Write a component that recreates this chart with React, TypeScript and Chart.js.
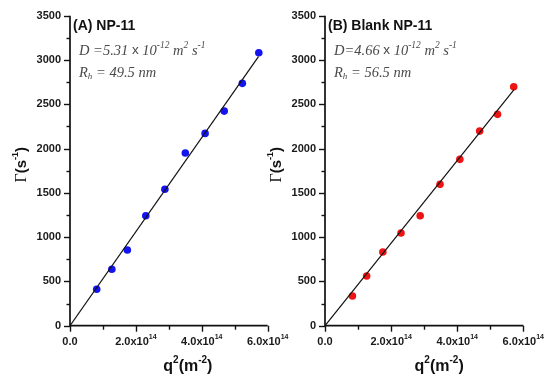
import React, { useEffect, useRef } from 'react';
import { Chart, registerables } from 'chart.js';

Chart.register(...registerables);

// q^2 values in units of 10^14 m^-2, decay rate Γ in s^-1
const qA = [0.81, 1.27, 1.74, 2.30, 2.88, 3.50, 4.10, 4.68, 5.23, 5.73];
const gammaA = [411, 637, 854, 1242, 1540, 1949, 2171, 2423, 2736, 3081];
const qB = [0.83, 1.26, 1.75, 2.30, 2.88, 3.48, 4.08, 4.68, 5.22, 5.71];
const gammaB = [335, 561, 832, 1046, 1242, 1596, 1878, 2197, 2386, 2698];
// linear fits through the origin
const fitQ = [0, 5.72];
const fitA = [0, 3037];
const fitB = [0, 2666];

const yTicks = [0, 500, 1000, 1500, 2000, 2500, 3000, 3500];
const xTicks = [0, 2, 4, 6];
const xTickMain = ['0.0', '2.0x10', '4.0x10', '6.0x10'];
const xTickExp = ['', '14', '14', '14'];

type Part = { t: string; font: string; dy?: number; color?: string };

const SANS = '"Liberation Sans", Arial, sans-serif';
const SERIF = '"Liberation Serif", "Times New Roman", serif';

function richWidth(ctx: CanvasRenderingContext2D, parts: Part[]) {
  let w = 0;
  for (const p of parts) {
    ctx.font = p.font;
    w += ctx.measureText(p.t).width;
  }
  return w;
}

function drawRich(ctx: CanvasRenderingContext2D, parts: Part[], x: number, y: number, align: 'left' | 'center', color: string) {
  const w = richWidth(ctx, parts);
  let cx = align === 'center' ? x - w / 2 : x;
  ctx.textBaseline = 'middle';
  ctx.textAlign = 'left';
  for (const p of parts) {
    ctx.font = p.font;
    ctx.fillStyle = p.color || color;
    ctx.fillText(p.t, cx, y + (p.dy || 0));
    cx += ctx.measureText(p.t).width;
  }
}

type Cfg = {
  title: string;
  dParts: Part[];
  rValue: string;
  xTitleShift: number;
};

function makePlugin(cfg: Cfg) {
  return {
    id: 'customAxes',
    afterDraw(chart: any) {
      const ctx: CanvasRenderingContext2D = chart.ctx;
      const { left, right, top, bottom } = chart.chartArea;
      const xs = chart.scales.x;
      const ys = chart.scales.y;
      ctx.save();
      const ink = '#111';
      ctx.strokeStyle = ink;
      ctx.lineWidth = 1.7;
      ctx.beginPath();
      ctx.moveTo(left, top);
      ctx.lineTo(left, bottom);
      ctx.lineTo(right, bottom);
      ctx.stroke();

      // y ticks (major + minor)
      ctx.lineWidth = 1.4;
      for (let v = 0; v <= 3500; v += 250) {
        const py = Math.round(ys.getPixelForValue(v)) + 0.5;
        const len = v % 500 === 0 ? 6 : 3.5;
        ctx.beginPath();
        ctx.moveTo(left - len, py);
        ctx.lineTo(left, py);
        ctx.stroke();
      }
      // x ticks
      for (let v = 0; v <= 6; v += 1) {
        const px = Math.round(xs.getPixelForValue(v)) + 0.5;
        const len = v % 2 === 0 ? 6 : 4;
        ctx.beginPath();
        ctx.moveTo(px, bottom);
        ctx.lineTo(px, bottom + len);
        ctx.stroke();
      }

      // y tick labels
      ctx.fillStyle = '#1a1a1a';
      ctx.font = `bold 11px ${SANS}`;
      ctx.textAlign = 'right';
      ctx.textBaseline = 'middle';
      yTicks.forEach((v) => {
        ctx.fillText(String(v), left - 9, ys.getPixelForValue(v));
      });

      // x tick labels
      xTicks.forEach((v, i) => {
        const parts: Part[] = [{ t: xTickMain[i], font: `bold 11px ${SANS}` }];
        if (xTickExp[i]) parts.push({ t: xTickExp[i], font: `bold 7px ${SANS}`, dy: -5 });
        drawRich(ctx, parts, xs.getPixelForValue(v), bottom + 16, 'center', '#1a1a1a');
      });

      // x title
      drawRich(
        ctx,
        [
          { t: 'q', font: `bold 16px ${SANS}` },
          { t: '2', font: `bold 10px ${SANS}`, dy: -6 },
          { t: '(m', font: `bold 16px ${SANS}` },
          { t: '-2', font: `bold 10px ${SANS}`, dy: -6 },
          { t: ')', font: `bold 16px ${SANS}` },
        ],
        (left + right) / 2 + cfg.xTitleShift,
        bottom + 41,
        'center',
        '#111'
      );

      // y title (rotated)
      ctx.save();
      ctx.translate(left - 48, (top + bottom) / 2 - 6);
      ctx.rotate(-Math.PI / 2);
      drawRich(
        ctx,
        [
          { t: 'Γ', font: `16px ${SERIF}` },
          { t: '(s', font: `bold 15px ${SANS}` },
          { t: '-1', font: `bold 9px ${SANS}`, dy: -6 },
          { t: ')', font: `bold 15px ${SANS}` },
        ],
        0,
        0,
        'center',
        '#111'
      );
      ctx.restore();

      // annotations
      ctx.fillStyle = '#111';
      ctx.font = `bold 14px ${SANS}`;
      ctx.textAlign = 'left';
      ctx.textBaseline = 'middle';
      ctx.fillText(cfg.title, left + 3, top + 10);

      drawRich(ctx, cfg.dParts, left + 9, top + 35, 'left', '#4a4a4a');
      drawRich(
        ctx,
        [
          { t: 'R', font: `italic 14.5px ${SERIF}` },
          { t: 'h', font: `italic 9px ${SERIF}`, dy: 4 },
          { t: ' = ' + cfg.rValue, font: `italic 14.5px ${SERIF}` },
        ],
        left + 9,
        top + 57,
        'left',
        '#4a4a4a'
      );
      ctx.restore();
    },
  };
}

function dParts(prefix: string, value: string): Part[] {
  const it = `italic 14.5px ${SERIF}`;
  const sup = `italic 9.5px ${SERIF}`;
  return [
    { t: prefix + value + ' ', font: it },
    { t: 'x', font: `13.5px ${SANS}` },
    { t: ' 10', font: it },
    { t: '-12', font: sup, dy: -5 },
    { t: ' m', font: it },
    { t: '2', font: sup, dy: -5 },
    { t: ' s', font: it },
    { t: '-1', font: sup, dy: -5 },
  ];
}

const CW = 290;

function Panel(props: {
  q: number[];
  g: number[];
  fit: number[];
  color: string;
  padding: { left: number; right: number; top: number; bottom: number };
  cfg: Cfg;
  offset: number;
}) {
  const ref = useRef<HTMLCanvasElement | null>(null);
  useEffect(() => {
    if (!ref.current) return;
    const chart = new Chart(ref.current, {
      type: 'scatter',
      data: {
        datasets: [
          {
            type: 'line',
            data: fitQ.map((x, i) => ({ x, y: props.fit[i] })),
            borderColor: '#111',
            borderWidth: 1.2,
            pointRadius: 0,
            showLine: true,
            fill: false,
            order: 0,
          } as any,
          {
            data: props.q.map((x, i) => ({ x, y: props.g[i] })),
            backgroundColor: props.color,
            borderColor: props.color,
            pointRadius: 3.8,
            pointBorderWidth: 0,
            order: 1,
          },
        ],
      },
      options: {
        animation: false,
        responsive: false,
        maintainAspectRatio: false,
        layout: { padding: props.padding },
        plugins: { legend: { display: false }, tooltip: { enabled: false } },
        scales: {
          x: { type: 'linear', min: 0, max: 6, display: false },
          y: { type: 'linear', min: 0, max: 3500, display: false },
        },
      },
      plugins: [makePlugin(props.cfg)],
    });
    return () => chart.destroy();
  }, []);
  return (
    <canvas
      ref={ref}
      width={CW}
      height={381}
      style={{ position: 'absolute', left: props.offset, top: 0, width: CW, height: 381 }}
    />
  );
}

export default function App() {
  return (
    <div style={{ position: 'fixed', left: 0, top: 0, width: 550, height: 381, background: '#fff', overflow: 'hidden' }}>
      <Panel
        q={qA}
        g={gammaA}
        fit={fitA}
        color="#1414f0"
        offset={0}
        padding={{ left: 70, right: CW - 267.7, top: 15.7, bottom: 55.3 }}
        cfg={{ title: '(A) NP-11', dParts: dParts('D =', '5.31'), rValue: '49.5 nm', xTitleShift: 19 }}
      />
      <Panel
        q={qB}
        g={gammaB}
        fit={fitB}
        color="#ee1414"
        offset={550 - CW}
        padding={{ left: 325 - (550 - CW), right: 26.7, top: 15.7, bottom: 55.3 }}
        cfg={{ title: '(B) Blank NP-11', dParts: dParts('D=', '4.66'), rValue: '56.5 nm', xTitleShift: 15 }}
      />
    </div>
  );
}
